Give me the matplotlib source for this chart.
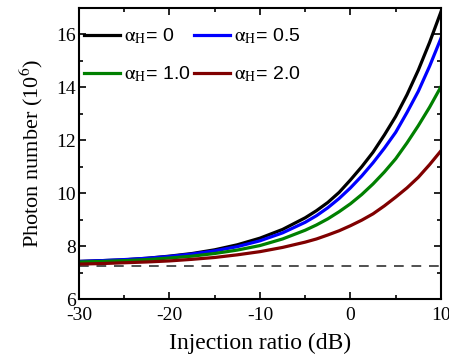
import matplotlib
matplotlib.use("Agg")
import matplotlib.pyplot as plt
from matplotlib.ticker import MultipleLocator

injection_db = [-30, -27.5, -25, -22.5, -20, -17.5, -15, -12.5, -10, -7.5, -5,
                -3.75, -2.5, -1.25, 0, 1.25, 2.5, 3.75, 5, 6.25, 7.5, 8.75, 10]
photons_a0 = [7.42, 7.45, 7.48, 7.54, 7.62, 7.72, 7.86, 8.05, 8.30, 8.63, 9.07,
              9.34, 9.65, 10.03, 10.50, 11.00, 11.55, 12.20, 12.90, 13.72, 14.65, 15.70, 16.85]
photons_a05 = [7.42, 7.45, 7.49, 7.54, 7.61, 7.70, 7.82, 7.98, 8.20, 8.50, 8.90,
               9.15, 9.45, 9.80, 10.20, 10.65, 11.15, 11.70, 12.30, 13.05, 13.85, 14.80, 15.85]
photons_a10 = [7.40, 7.42, 7.45, 7.49, 7.55, 7.62, 7.72, 7.85, 8.02, 8.27, 8.60,
               8.80, 9.03, 9.30, 9.60, 9.95, 10.35, 10.80, 11.30, 11.90, 12.55, 13.25, 14.02]
photons_a20 = [7.32, 7.34, 7.37, 7.40, 7.44, 7.50, 7.57, 7.67, 7.79, 7.95, 8.15,
               8.27, 8.42, 8.58, 8.77, 8.98, 9.22, 9.52, 9.85, 10.20, 10.60, 11.08, 11.60]
free_running = 7.25

labels = [r"$\mathrm{\alpha}_{\mathrm{H}}$= 0", r"$\mathrm{\alpha}_{\mathrm{H}}$= 0.5",
          r"$\mathrm{\alpha}_{\mathrm{H}}$= 1.0", r"$\mathrm{\alpha}_{\mathrm{H}}$= 2.0"]
colors = ["#000000", "#0000ff", "#008000", "#800000"]
series = [photons_a0, photons_a05, photons_a10, photons_a20]

plt.rcParams["mathtext.fontset"] = "stix"
plt.rcParams["axes.unicode_minus"] = False
plt.rcParams["font.family"] = ["Liberation Serif", "DejaVu Serif"]

fig = plt.figure(figsize=(4.49, 3.62), dpi=100)
ax = fig.add_axes([0.176, 0.174, 0.806, 0.804])

ax.axhline(free_running, color="#505050", lw=1.4, ls=(0, (5, 4)))
handles = []
for ys, c, lab in zip(series, colors, labels):
    h, = ax.plot(injection_db, ys, color=c, lw=2.3, label=lab)
    handles.append(h)

ax.set_xlim(-30, 10)
ax.set_ylim(6, 17)
ax.xaxis.set_major_locator(MultipleLocator(10))
ax.xaxis.set_minor_locator(MultipleLocator(5))
ax.yaxis.set_major_locator(MultipleLocator(2))
ax.yaxis.set_minor_locator(MultipleLocator(1))
ax.tick_params(which="both", direction="in", top=True, right=True, width=1.2)
ax.tick_params(which="major", length=5, labelsize=14)
ax.tick_params(which="minor", length=3)
ax.tick_params(axis="x", pad=6)
ax.tick_params(axis="y", pad=2)
for s in ax.spines.values():
    s.set_linewidth(1.5)

ax.set_xlabel("Injection ratio (dB)", fontsize=17, labelpad=6)
ax.set_ylabel(r"Photon number (10$^{6}$)", fontsize=16, labelpad=8)

order = [0, 2, 1, 3]
leg = ax.legend(handles=[handles[i] for i in order], labels=[labels[i] for i in order],
                ncol=2, loc="upper left", frameon=False,
                prop={"family": ["Liberation Sans", "DejaVu Sans"], "size": 14},
                handlelength=1.85, handletextpad=0.2, columnspacing=0.2,
                labelspacing=0.95, borderpad=0.1, borderaxespad=0.0,
                bbox_to_anchor=(0.008, 0.943))

fig.savefig("out.png", dpi=100)
